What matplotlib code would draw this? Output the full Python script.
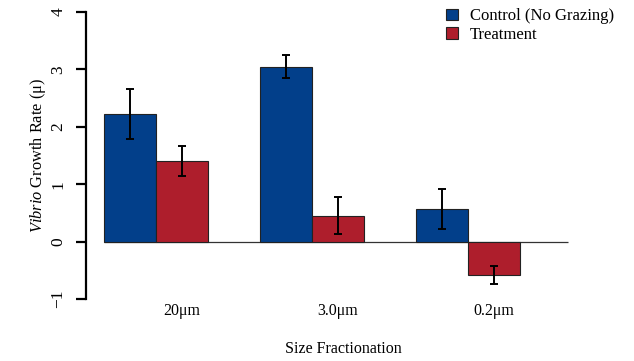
import matplotlib
matplotlib.use("Agg")
import matplotlib.pyplot as plt
import numpy as np

plt.rcParams['font.family'] = ['Liberation Serif', 'DejaVu Serif']
plt.rcParams['mathtext.fontset'] = 'custom'
plt.rcParams['mathtext.rm'] = 'Liberation Serif'
plt.rcParams['mathtext.it'] = 'Liberation Serif:italic'

categories = ["20μm", "3.0μm", "0.2μm"]
series_names = ["Control (No Grazing)", "Treatment"]
control = [2.22, 3.05, 0.57]
control_err = [0.43, 0.20, 0.35]
treatment = [1.40, 0.45, -0.58]
treatment_err = [0.26, 0.32, 0.155]
yticks = [-1, 0, 1, 2, 3, 4]

blue = "#023f8a"
red = "#ae1e2c"

W, H = 634, 361
fig = plt.figure(figsize=(W / 100, H / 100), dpi=100)
left_px, right_px, top_px, bot_px = 86, 600, 12, 299
ax = fig.add_axes([left_px / W, 1 - bot_px / H, (right_px - left_px) / W, (bot_px - top_px) / H])

n = len(categories)
xc = np.arange(n) * 3 + 1.5   # control bar centers
xt = xc + 1.0                 # treatment bar centers

ax.bar(xc, control, width=1.0, color=blue, edgecolor="#222222", linewidth=0.8, label=series_names[0], zorder=2)
ax.bar(xt, treatment, width=1.0, color=red, edgecolor="#222222", linewidth=0.8, label=series_names[1], zorder=2)
ax.errorbar(xc, control, yerr=control_err, fmt="none", ecolor="black", elinewidth=1.4, capsize=3.2, capthick=1.4, zorder=3)
ax.errorbar(xt, treatment, yerr=treatment_err, fmt="none", ecolor="black", elinewidth=1.4, capsize=3.2, capthick=1.4, zorder=3)

ppu = 52.0
x_left = 1 - (104 - left_px) / ppu
x_right = 1 + (right_px - 104) / ppu
ax.set_xlim(x_left, x_right)
ax.set_ylim(-1, 4)
line_end = 1 + (568 - 104) / ppu
ax.hlines(0, 1, line_end, color="#333333", linewidth=0.9, zorder=1)

for s in ["top", "right", "bottom"]:
    ax.spines[s].set_visible(False)
ax.spines["left"].set_linewidth(1.6)
ax.spines["left"].set_bounds(-1, 4)
ax.set_yticks(yticks)
ax.set_yticklabels([("−1" if v == -1 else str(v)) for v in yticks], rotation=90, va="center", fontsize=12.5)
ax.tick_params(axis="y", length=7, width=1.6, pad=7)
ax.set_xticks(xt)
ax.set_xticklabels(categories, fontsize=11.5)
ax.tick_params(axis="x", length=0, pad=3)
ax.set_xlabel("Size Fractionation", fontsize=11.5, labelpad=16)
ax.set_ylabel(r"$\mathit{Vibrio}$ Growth Rate (μ)", fontsize=11.8, labelpad=2)

leg = ax.legend(loc="upper left", bbox_to_anchor=((431 - left_px) / (right_px - left_px), 1.065),
                frameon=False, fontsize=12, handlelength=0.7, handleheight=0.7,
                handletextpad=0.75, labelspacing=0.15)

fig.savefig("out.png", dpi=100)
